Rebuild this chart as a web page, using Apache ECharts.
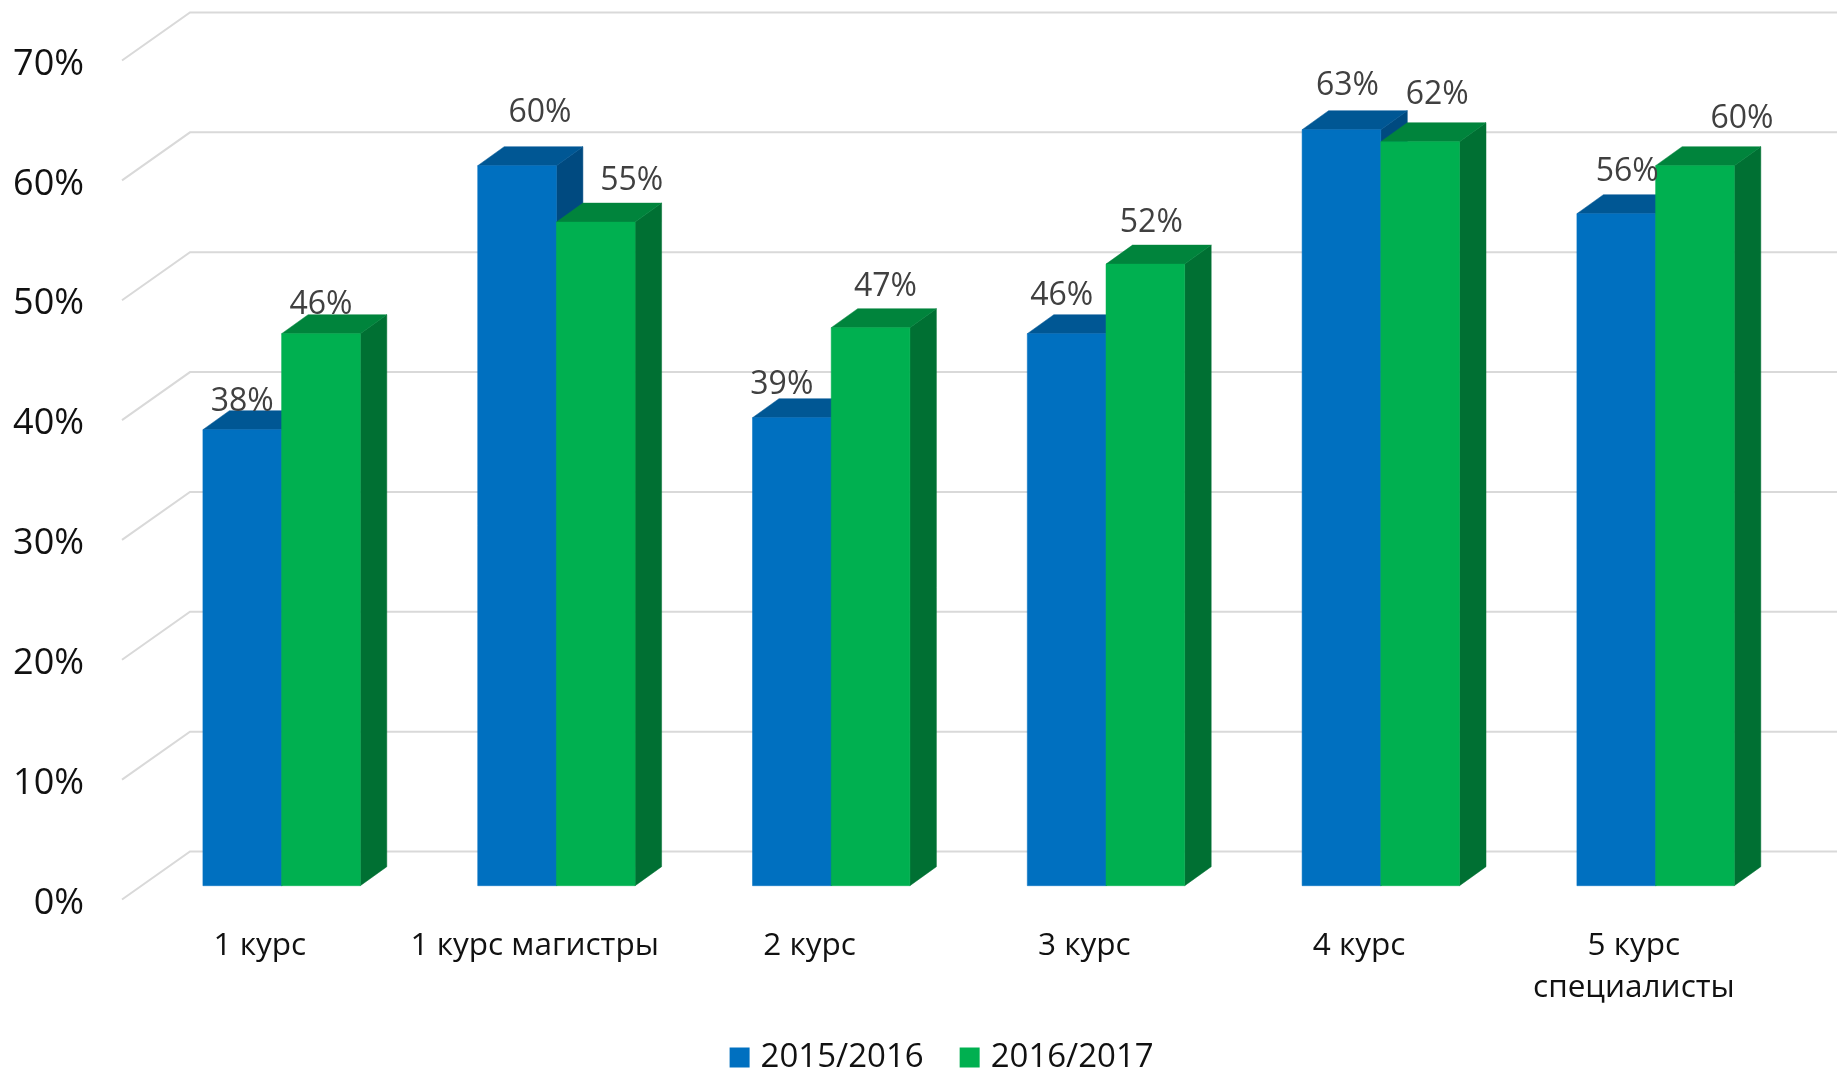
<!DOCTYPE html>
<html><head><meta charset="utf-8">
<style>html,body{margin:0;padding:0;background:#fff}#c{width:1837px;height:1072px}</style>
<script src="https://cdn.jsdelivr.net/npm/echarts@6/dist/echarts.min.js"></script>
</head><body><div id="c"></div>
<script>
const categories = ['1 курс','1 курс магистры','2 курс','3 курс','4 курс','5 курс\nспециалисты'];
const years = ['2015/2016','2016/2017'];
const values2015 = [38,60,39,46,63,56];
const values2016 = [46,55.3,46.5,51.8,62,60];
const yTicks = [0,10,20,30,40,50,60,70];
const labelOffsets2015 = [[0,-28],[23,-53],[-10,-33],[-5,-38],[6,-44],[11,-42]];
const labelOffsets2016 = [[0,-29],[36,-41],[15,-41],[6,-41],[17,-47],[47,-47]];

const chart = echarts.init(document.getElementById('c'), null, {renderer:'canvas'});
const barRatio = 78.7/274.8, depthX = 26.5, depthY = 19, wallX = 68, wallY = 48, wallLift = 4;
const FONT = '"Open Sans"';

function barRender(sign, front, top, side){
  return function(params, api){
    const c = api.coord([api.value(0), api.value(1)]);
    const base = api.coord([api.value(0), 0]);
    const w = api.size([1,0])[0]*barRatio;
    const x0 = sign < 0 ? c[0]-w : c[0], x1 = x0+w, yT = c[1], yB = base[1];
    const poly = (pts,color)=>({type:'polygon',shape:{points:pts},style:{fill:color,stroke:color,lineWidth:0.5}});
    return {type:'group',children:[
      poly([[x1,yT],[x1+depthX,yT-depthY],[x1+depthX,yB-depthY],[x1,yB]],side),
      poly([[x0,yT],[x0+depthX,yT-depthY],[x1+depthX,yT-depthY],[x1,yT]],top),
      poly([[x0,yT],[x1,yT],[x1,yB],[x0,yB]],front)
    ]};
  };
}
function labelRender(sign, offsets){
  return function(params, api){
    const v = api.value(1);
    const c = api.coord([api.value(0), v]);
    const w = api.size([1,0])[0]*barRatio;
    const o = offsets[params.dataIndex];
    return {type:'text',style:{
      x:c[0]+sign*w/2+o[0], y:c[1]+o[1], text:Math.round(v)+'%',
      font:'32px '+FONT, fill:'#404040', textAlign:'center', textVerticalAlign:'middle'
    }};
  };
}
function pairs(arr){ return arr.map((v,i)=>[i,v]); }

chart.setOption({
  animation:false,
  backgroundColor:'#fff',
  textStyle:{fontFamily:FONT},
  legend:{
    data:years, left:729.6, top:1041, padding:0, itemWidth:20, itemHeight:20, itemGap:36, icon:'rect',
    textStyle:{fontSize:33, color:'#111', fontFamily:FONT, padding:[0,0,0,6]}, selectedMode:false
  },
  grid:[
    {left:122.5, top:64.5, width:1648.8, height:839},
    {left:144.2, top:45.7, width:1648.8, height:840}
  ],
  xAxis:[
    {gridIndex:0,type:'category',data:categories,axisLine:{show:false},axisTick:{show:false},
     axisLabel:{interval:0,margin:21.5,fontSize:31.5,lineHeight:42,color:'#111',fontFamily:FONT}},
    {gridIndex:1,type:'category',data:categories,show:false}
  ],
  yAxis:[
    {gridIndex:0,type:'value',min:0,max:70,interval:10,splitLine:{show:false},axisLine:{show:false},axisTick:{show:false},
     axisLabel:{formatter:'{value}%',fontSize:36,margin:38.5,color:'#111',fontFamily:FONT}},
    {gridIndex:1,type:'value',min:0,max:70,interval:10,show:false,splitLine:{show:false}}
  ],
  series:[
    {type:'custom',name:'wall',xAxisIndex:0,yAxisIndex:0,clip:false,silent:true,z:1,
     data:yTicks.map(t=>[0,t]),
     renderItem(params,api){
       const y = api.coord([0,api.value(1)])[1]-wallLift;
       const x = params.coordSys.x, w = params.coordSys.width;
       return {type:'polyline',shape:{points:[[x-0.5,y],[x+wallX-0.5,y-wallY],[x+w+wallX,y-wallY]]},
               style:{fill:'none',stroke:'#D9D9D9',lineWidth:2}};
     }},
    {type:'custom',name:years[0],xAxisIndex:1,yAxisIndex:1,clip:false,z:2,itemStyle:{color:'#0070C0'},
     data:pairs(values2015),renderItem:barRender(-1,'#0070C0','#005794','#004A80')},
    {type:'custom',name:years[1],xAxisIndex:1,yAxisIndex:1,clip:false,z:3,itemStyle:{color:'#00B050'},
     data:pairs(values2016),renderItem:barRender(1,'#00B050','#00843C','#007033')},
    {type:'custom',name:'labels2015',xAxisIndex:1,yAxisIndex:1,clip:false,z:4,silent:true,
     data:pairs(values2015),renderItem:labelRender(-1,labelOffsets2015)},
    {type:'custom',name:'labels2016',xAxisIndex:1,yAxisIndex:1,clip:false,z:4,silent:true,
     data:pairs(values2016),renderItem:labelRender(1,labelOffsets2016)}
  ]
});
</script></body></html>
